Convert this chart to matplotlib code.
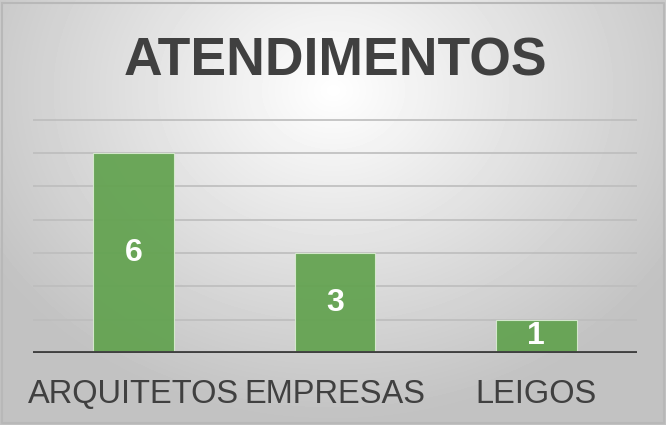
import numpy as np
import matplotlib.pyplot as plt

categories = ['ARQUITETOS', 'EMPRESAS', 'LEIGOS']
values = [6, 3, 1]
title = 'ATENDIMENTOS'

plt.rcParams['font.family'] = ['Liberation Sans', 'DejaVu Sans']

W, H = 666, 425
fig = plt.figure(figsize=(W / 100, H / 100), dpi=100)

# radial grey background
bg = fig.add_axes([0, 0, 1, 1])
yy, xx = np.mgrid[0:H, 0:W]
r = np.sqrt(((xx - 333) / 400.0) ** 2 + ((yy - 90) / 330.0) ** 2)
shade = np.clip(1.0 - 0.24 * r, 0.76, 1.0)
bg.imshow(shade, cmap='gray', vmin=0, vmax=1, aspect='auto',
          extent=[0, W, H, 0], interpolation='bilinear')
bg.plot([2, W - 2, W - 2, 2, 2], [3, 3, H - 2, H - 2, 3],
        color='#b8b8b8', lw=1.5)
bg.set_xlim(0, W)
bg.set_ylim(H, 0)
bg.axis('off')

ax = fig.add_axes([33 / W, (H - 353) / H, 604 / W, 234 / H])
ax.patch.set_alpha(0)
x = np.arange(len(categories))
ax.set_xlim(-0.5, len(categories) - 0.5)
ax.set_ylim(0, 7.02)
for g in range(1, 8):
    ax.axhline(g, color='#bdbdbd', lw=1.2, zorder=1)
bars = ax.bar(x, values, width=0.4, color='#62A24F', alpha=0.93,
              edgecolor='#d8ecd0', linewidth=0.8, zorder=2)
for xi, v in zip(x, values):
    ax.text(xi, v / 2, str(v), ha='center', va='center', color='white',
            fontsize=23, fontweight='bold', zorder=3)
ax.axhline(0, color='#404040', lw=3.5, zorder=4)
for s in ax.spines.values():
    s.set_visible(False)
ax.set_yticks([])
ax.set_xticks(x)
ax.set_xticklabels(categories, fontsize=23.5, color='#404040')
ax.tick_params(axis='x', length=0, pad=19)

fig.text(335 / W, 1 - 61 / H, title, ha='center', va='center',
         fontsize=38.5, fontweight='bold', color='#404040')

fig.savefig('out.png', dpi=100)
